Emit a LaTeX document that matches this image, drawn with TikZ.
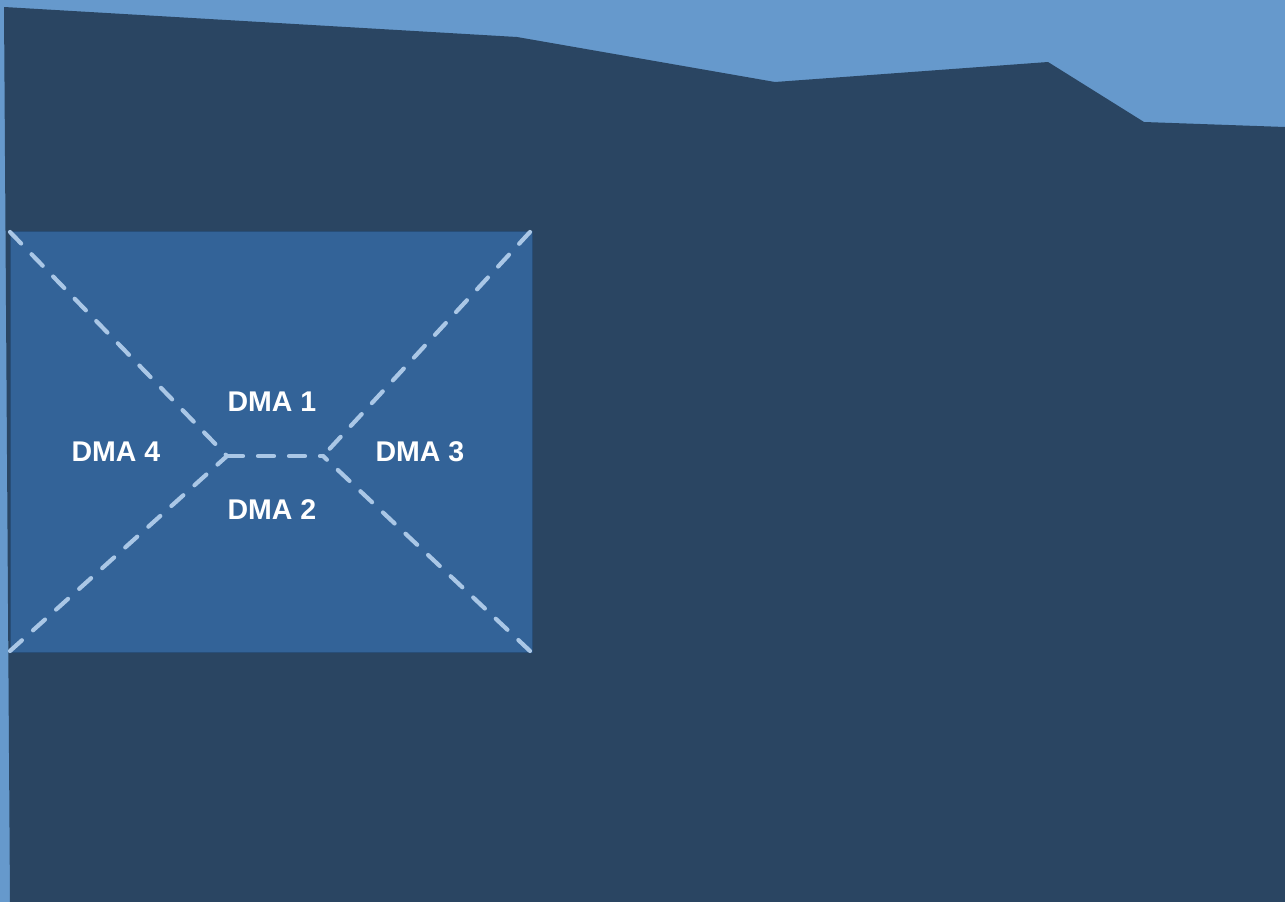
\documentclass[tikz,border=0pt]{standalone}
\usepackage{fontspec}
\setmainfont{Liberation Sans}
\definecolor{skyblue}{RGB}{102,153,204}
\definecolor{deepnavy}{RGB}{42,69,98}
\definecolor{panelblue}{RGB}{51,99,152}
\definecolor{paneledge}{RGB}{40,78,120}
\definecolor{dashblue}{RGB}{170,199,230}
\begin{document}
\begin{tikzpicture}[x=1pt,y=-1pt,
  zoneline/.style={draw=dashblue,line width=4.2pt,line cap=round,dash pattern=on 16pt off 15pt},
  zonelabel/.style={text=white,font=\bfseries\fontsize{28.5}{32}\selectfont,inner sep=0pt}]
\useasboundingbox (0,0) rectangle (1285,902);
\fill[skyblue] (0,0) rectangle (1285,902);
% dark ground with jagged upper edge
\fill[deepnavy] (4,7) -- (517,37) -- (775,82) -- (1048,62) -- (1144,122) -- (1285,127)
  -- (1285,902) -- (10,902) -- cycle;
% zone panel
\draw[fill=panelblue,draw=paneledge,line width=1pt] (10,231) rectangle (532,652);
\coordinate (tl) at (10,232);
\coordinate (tr) at (530,232);
\coordinate (bl) at (10,651);
\coordinate (br) at (530,651);
\coordinate (jl) at (227,456);
\coordinate (jr) at (323,456);
\draw[zoneline] (tl) -- (jl);
\draw[zoneline] (bl) -- (jl);
\draw[zoneline] (jl) -- (jr);
\draw[zoneline] (tr) -- (jr);
\draw[zoneline] (br) -- (jr);
\node[zonelabel] (d1) at (272,402) {DMA 1};
\node[zonelabel] (d2) at (272,510) {DMA 2};
\node[zonelabel] (d3) at (420,452) {DMA 3};
\node[zonelabel] (d4) at (116,452) {DMA 4};
\end{tikzpicture}
\end{document}
